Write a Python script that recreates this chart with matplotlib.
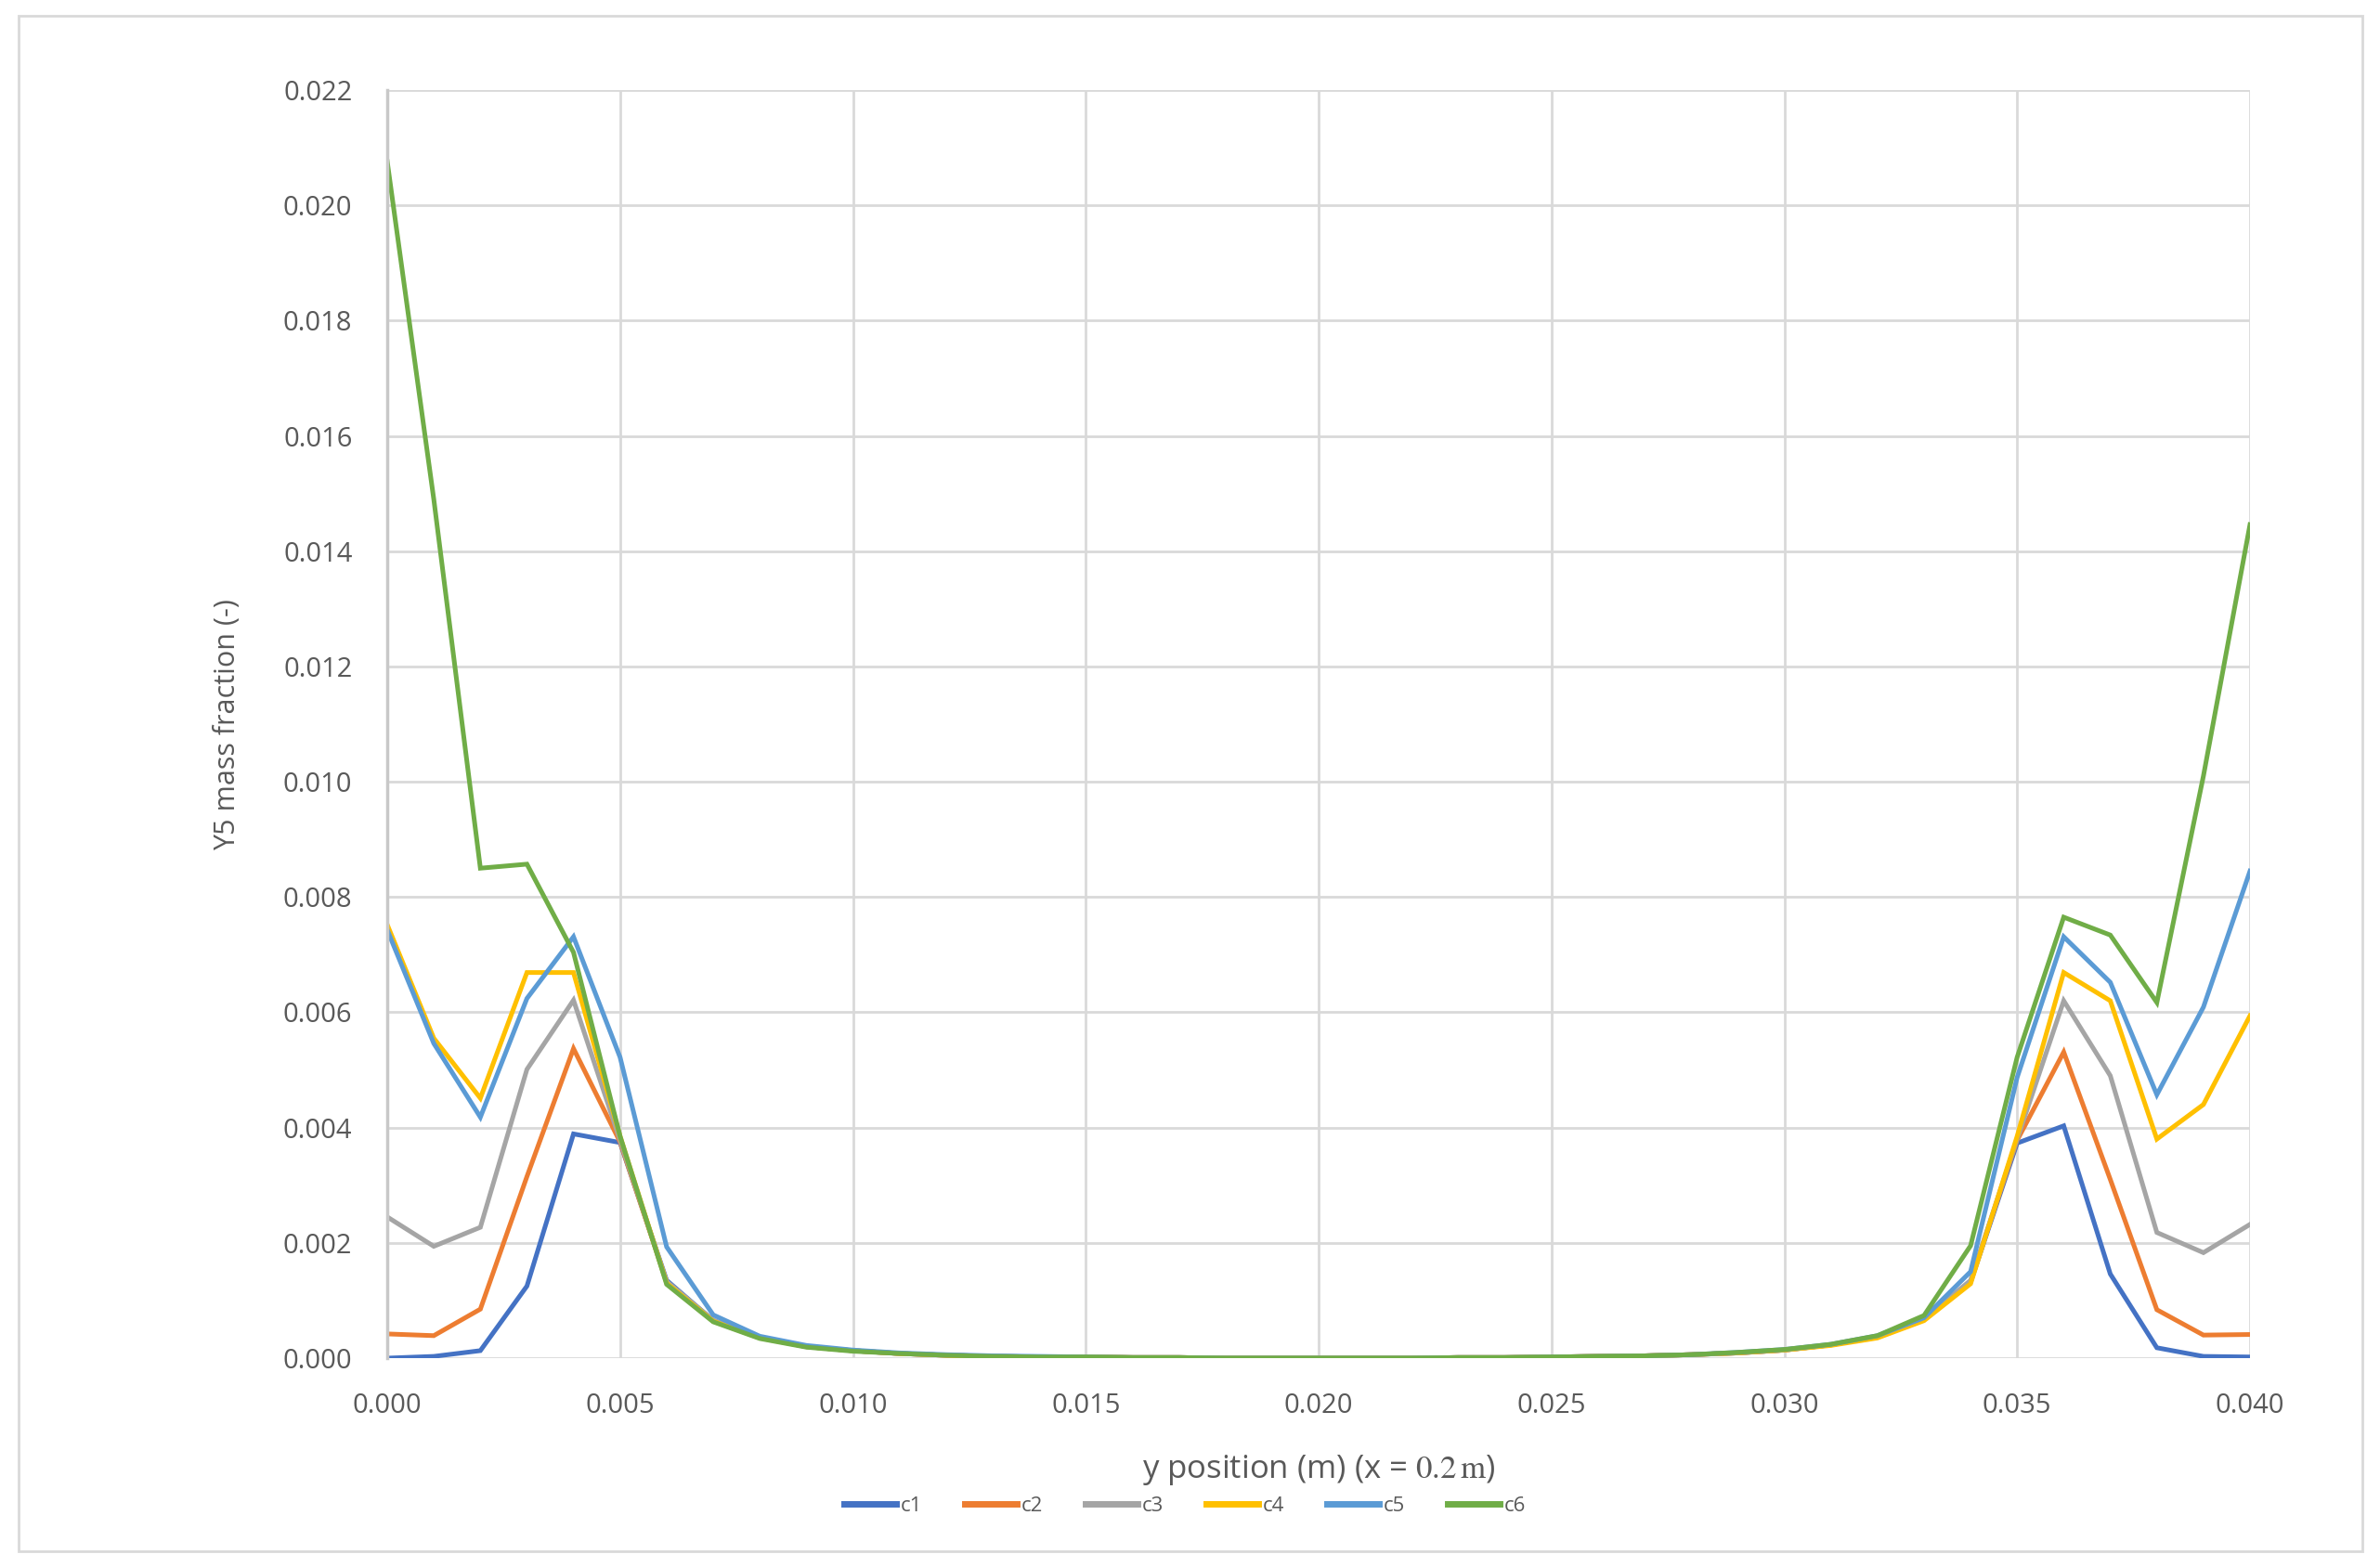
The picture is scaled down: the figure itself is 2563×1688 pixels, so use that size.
import numpy as np
import matplotlib.pyplot as plt
from matplotlib.patches import Rectangle

# DATA
y_pos = [0.000, 0.001, 0.002, 0.003, 0.004, 0.005, 0.006, 0.007, 0.008, 0.009,
         0.010, 0.011, 0.012, 0.013, 0.014, 0.015, 0.016, 0.017, 0.018, 0.019,
         0.020, 0.021, 0.022, 0.023, 0.024, 0.025, 0.026, 0.027, 0.028, 0.029,
         0.030, 0.031, 0.032, 0.033, 0.034, 0.035, 0.036, 0.037, 0.038, 0.039,
         0.040]

c1 = [0.00000, 0.00003, 0.00013, 0.00125, 0.00389, 0.00374, 0.00135, 0.00065, 0.00036, 0.00020,
      0.00013, 0.00008, 0.00005, 0.00003, 0.00002, 0.00002, 0.00001, 0.00001, 0.00000, 0.00000,
      0.00000, 0.00000, 0.00000, 0.00001, 0.00001, 0.00002, 0.00003, 0.00004, 0.00006, 0.00009,
      0.00014, 0.00023, 0.00038, 0.00068, 0.00132, 0.00373, 0.00403, 0.00146, 0.00018, 0.00003,
      0.00002]

c2 = [0.00042, 0.00039, 0.00085, 0.00315, 0.00537, 0.00375, 0.00132, 0.00065, 0.00036, 0.00020,
      0.00013, 0.00008, 0.00005, 0.00003, 0.00002, 0.00002, 0.00001, 0.00001, 0.00000, 0.00000,
      0.00000, 0.00000, 0.00000, 0.00001, 0.00001, 0.00002, 0.00003, 0.00004, 0.00006, 0.00009,
      0.00014, 0.00023, 0.00038, 0.00068, 0.00133, 0.00378, 0.00531, 0.00310, 0.00084, 0.00040,
      0.00041]

c3 = [0.00245, 0.00194, 0.00227, 0.00501, 0.00621, 0.00378, 0.00133, 0.00066, 0.00036, 0.00020,
      0.00013, 0.00008, 0.00005, 0.00003, 0.00002, 0.00002, 0.00001, 0.00001, 0.00000, 0.00000,
      0.00000, 0.00000, 0.00000, 0.00001, 0.00001, 0.00002, 0.00003, 0.00004, 0.00006, 0.00009,
      0.00014, 0.00023, 0.00038, 0.00068, 0.00135, 0.00380, 0.00620, 0.00490, 0.00218, 0.00183,
      0.00232]

c4 = [0.00752, 0.00555, 0.00451, 0.00669, 0.00669, 0.00385, 0.00130, 0.00064, 0.00035, 0.00020,
      0.00013, 0.00008, 0.00005, 0.00003, 0.00002, 0.00002, 0.00001, 0.00001, 0.00000, 0.00000,
      0.00000, 0.00000, 0.00000, 0.00001, 0.00001, 0.00002, 0.00003, 0.00004, 0.00006, 0.00009,
      0.00014, 0.00022, 0.00035, 0.00065, 0.00129, 0.00385, 0.00669, 0.00620, 0.00380, 0.00440,
      0.00594]

c5 = [0.00743, 0.00546, 0.00418, 0.00624, 0.00731, 0.00522, 0.00193, 0.00075, 0.00038, 0.00022,
      0.00014, 0.00009, 0.00006, 0.00004, 0.00003, 0.00002, 0.00001, 0.00001, 0.00000, 0.00000,
      0.00000, 0.00000, 0.00000, 0.00001, 0.00001, 0.00002, 0.00003, 0.00004, 0.00006, 0.00010,
      0.00015, 0.00024, 0.00039, 0.00070, 0.00150, 0.00487, 0.00731, 0.00652, 0.00457, 0.00609,
      0.00845]

c6 = [0.02076, 0.01490, 0.00850, 0.00857, 0.00704, 0.00385, 0.00128, 0.00063, 0.00034, 0.00019,
      0.00012, 0.00008, 0.00005, 0.00003, 0.00002, 0.00002, 0.00001, 0.00001, 0.00000, 0.00000,
      0.00000, 0.00000, 0.00000, 0.00001, 0.00001, 0.00002, 0.00003, 0.00004, 0.00006, 0.00010,
      0.00015, 0.00024, 0.00039, 0.00074, 0.00195, 0.00522, 0.00765, 0.00734, 0.00617, 0.01010,
      0.01446]

series = [("c1", c1, "#4472C4"), ("c2", c2, "#ED7D31"), ("c3", c3, "#A5A5A5"),
          ("c4", c4, "#FFC000"), ("c5", c5, "#5B9BD5"), ("c6", c6, "#70AD47")]

x_ticks = [0.000, 0.005, 0.010, 0.015, 0.020, 0.025, 0.030, 0.035, 0.040]
y_ticks = [0.000, 0.002, 0.004, 0.006, 0.008, 0.010, 0.012, 0.014, 0.016, 0.018, 0.020, 0.022]

# PLOT
plt.rcParams['font.family'] = ['Open Sans', 'DejaVu Sans']
plt.rcParams['mathtext.fontset'] = 'stix'

W, H = 2563, 1688
fig = plt.figure(figsize=(W / 100, H / 100), dpi=100)
ax = fig.add_axes([417 / W, 1 - 1463 / H, (2423 - 417) / W, (1463 - 97) / H])

for name, vals, col in series:
    ax.plot(y_pos, vals, color=col, lw=3.6, label=name, solid_joinstyle='miter')

ax.set_xlim(0, 0.040)
ax.set_ylim(0, 0.022)
ax.set_xticks(x_ticks)
ax.set_yticks(y_ticks)
ax.set_xticklabels([f"{t:.3f}" for t in x_ticks])
ax.set_yticklabels([f"{t:.3f}" for t in y_ticks])
ax.tick_params(length=0, labelsize=21, labelcolor="#595959", pad=27)

ax.grid(True, color="#d9d9d9", lw=2)
ax.set_axisbelow(True)
for s in ["top", "right", "bottom"]:
    ax.spines[s].set_visible(False)
ax.spines["left"].set_color("#c8c8c8")
ax.spines["left"].set_linewidth(2.5)

fig.text(1420 / W, 1 - 1583 / H, r"y position (m) (x = $0.2\,\mathrm{m}$)",
         ha="center", va="center", fontsize=25, color="#595959")
fig.text(245 / W, 1 - 781 / H, "Y5 mass fraction (-)", rotation=90,
         ha="center", va="center", fontsize=22, color="#595959")

leg = fig.legend(loc="center", bbox_to_anchor=(1276 / W, 1 - 1622 / H), ncol=6,
                 frameon=False, fontsize=16, handlelength=2.5, handletextpad=0.2,
                 columnspacing=2.1, labelcolor="#595959")
for ln in leg.get_lines():
    ln.set_linewidth(5)

# outer chart frame
fig.patches.append(Rectangle((20 / W, 17 / H), 2524 / W, 1654 / H, transform=fig.transFigure,
                             fill=False, edgecolor="#d9d9d9", lw=2))

fig.savefig("out.png", dpi=100, facecolor="white")
